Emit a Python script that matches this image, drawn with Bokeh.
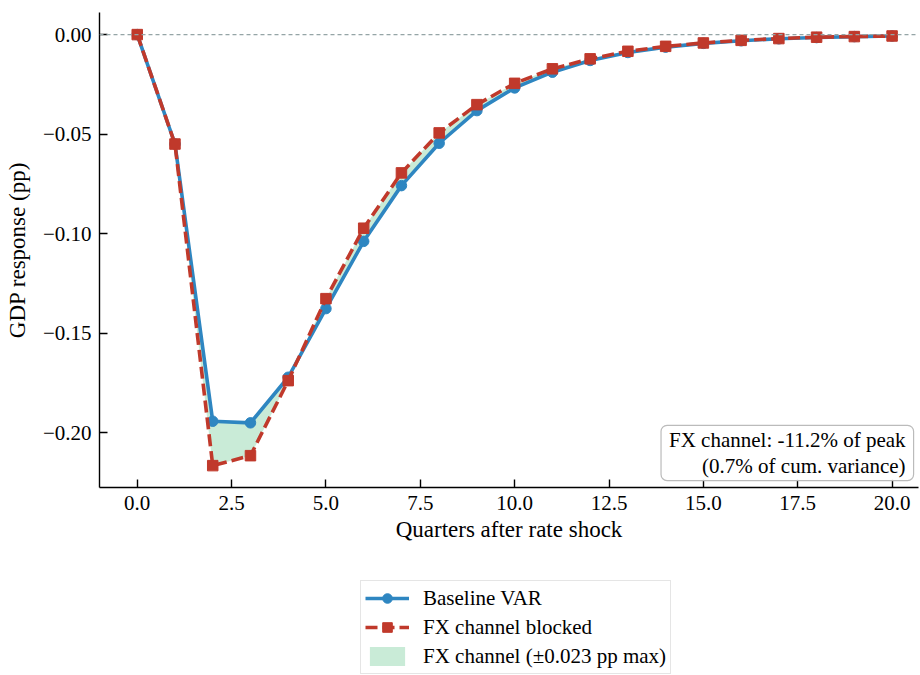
from bokeh.plotting import figure
from bokeh.layouts import column
from bokeh.models import (Range1d, Span, Legend, LegendItem, Label, FixedTicker,
                          CustomJSTickFormatter, ColumnDataSource)
from bokeh.embed import file_html
from bokeh.resources import INLINE

quarters = list(range(21))
baseline = [0.0, -0.055, -0.1943, -0.1951, -0.1722, -0.1377, -0.1039, -0.0759,
            -0.0546, -0.0382, -0.0268, -0.0189, -0.0130, -0.0090, -0.0063,
            -0.0044, -0.0031, -0.0021, -0.0015, -0.0010, -0.0007]
blocked = [0.0, -0.055, -0.2166, -0.2116, -0.1739, -0.1327, -0.0973, -0.0695,
           -0.0494, -0.0352, -0.0245, -0.0172, -0.0122, -0.0084, -0.0059,
           -0.0042, -0.0029, -0.0020, -0.0013, -0.0010, -0.0007]
x_ticks = [0, 2.5, 5, 7.5, 10, 12.5, 15, 17.5, 20]
y_ticks = [0.0, -0.05, -0.10, -0.15, -0.20]
annotation_text = "FX channel: -11.2% of peak\n(0.7% of cum. variance)"
labels = ["Baseline VAR", "FX channel blocked", "FX channel (\u00b10.023 pp max)"]

FONT = "Liberation Serif"
BLUE = "#2e86c1"
RED = "#c0392b"
GREEN = "#27ae60"

src = ColumnDataSource(dict(q=quarters, base=baseline, blk=blocked))


def draw_series(fig):
    f = fig.varea(x="q", y1="base", y2="blk", source=src,
                  fill_color=GREEN, fill_alpha=0.25)
    b_l = fig.line(x="q", y="base", source=src, line_color=BLUE, line_width=3.6)
    b_s = fig.scatter(x="q", y="base", source=src, marker="circle", size=10.5,
                      fill_color=BLUE, line_color=BLUE)
    r_l = fig.line(x="q", y="blk", source=src, line_color=RED, line_width=3.6,
                   line_dash="12 5")
    r_s = fig.scatter(x="q", y="blk", source=src, marker="square", size=10.5,
                      fill_color=RED, line_color=RED)
    return f, b_l, b_s, r_l, r_s


p = figure(width=920, height=570, output_backend="svg",
           toolbar_location=None,
           x_range=Range1d(-1.0, 20.7), y_range=Range1d(-0.2276, 0.0111),
           min_border_left=99, min_border_right=2, min_border_top=12,
           min_border_bottom=83)
p.outline_line_color = None
p.xgrid.visible = False
p.ygrid.visible = False
p.background_fill_color = "white"
p.border_fill_color = "white"

zero = Span(location=0, dimension="width", line_color="#95a5a6",
            line_width=1.2, line_dash="4 3")
p.add_layout(zero)

draw_series(p)

for ax in (p.xaxis[0], p.yaxis[0]):
    ax.axis_line_color = "black"
    ax.axis_line_width = 1.4
    ax.major_tick_line_color = "black"
    ax.major_tick_line_width = 1.4
    ax.major_tick_in = 8
    ax.major_tick_out = 0
    ax.minor_tick_line_color = None
    ax.major_label_text_font = FONT
    ax.major_label_text_font_size = "21px"
    ax.major_label_text_color = "black"
    ax.axis_label_text_font = FONT
    ax.axis_label_text_font_size = "23px"
    ax.axis_label_text_font_style = "normal"
    ax.axis_label_text_color = "black"

p.xaxis.ticker = FixedTicker(ticks=x_ticks)
p.yaxis.ticker = FixedTicker(ticks=y_ticks)
p.xaxis.formatter = CustomJSTickFormatter(
    code="return (tick < 0 ? '\u2212' : '') + Math.abs(tick).toFixed(1);")
p.yaxis.formatter = CustomJSTickFormatter(
    code="return (tick < -1e-9 ? '\u2212' : '') + Math.abs(tick).toFixed(2);")
p.xaxis.axis_label = "Quarters after rate shock"
p.yaxis.axis_label = "GDP response (pp)"
p.xaxis.major_label_standoff = 8
p.xaxis.axis_label_standoff = 4
p.yaxis.major_label_standoff = 8
p.yaxis.axis_label_standoff = 10

ann = Label(x=20.57, y=-0.2241, text=annotation_text, anchor="bottom_right",
            text_align="right", text_font=FONT, text_font_size="21px",
            text_line_height=1.05,
            text_color="black", background_fill_color="white",
            background_fill_alpha=0.9, border_line_color="#bbbbbb",
            border_line_width=1.2, padding=dict(x=8, y=3), border_radius=6)
p.add_layout(ann)

# legend strip below the chart: same series drawn out of view, legend only
p2 = figure(width=920, height=105, output_backend="svg", toolbar_location=None,
            x_range=Range1d(1000, 1001), y_range=Range1d(1000, 1001),
            x_axis_location=None, y_axis_location=None,
            min_border_left=0, min_border_right=0, min_border_top=0,
            min_border_bottom=0)
p2.outline_line_color = None
p2.xgrid.visible = False
p2.ygrid.visible = False
p2.border_fill_color = "white"
lf, lbl, lbs, lrl, lrs = draw_series(p2)

legend = Legend(items=[LegendItem(label=labels[0], renderers=[lbl, lbs]),
                       LegendItem(label=labels[1], renderers=[lrl, lrs]),
                       LegendItem(label=labels[2], renderers=[lf])],
                location=(261, 1), orientation="vertical")
legend.label_text_font = FONT
legend.label_text_font_size = "21px"
legend.label_text_color = "black"
legend.border_line_color = "#cccccc"
legend.border_line_width = 1.5
legend.glyph_width = 44
legend.glyph_height = 24
legend.label_standoff = 14
legend.label_height = 26
legend.padding = 4
legend.spacing = 3
legend.margin = 0
legend.background_fill_color = "white"
p2.add_layout(legend)

layout = column(p, p2, spacing=0)
open("out.html", "w").write(file_html(layout, INLINE))
